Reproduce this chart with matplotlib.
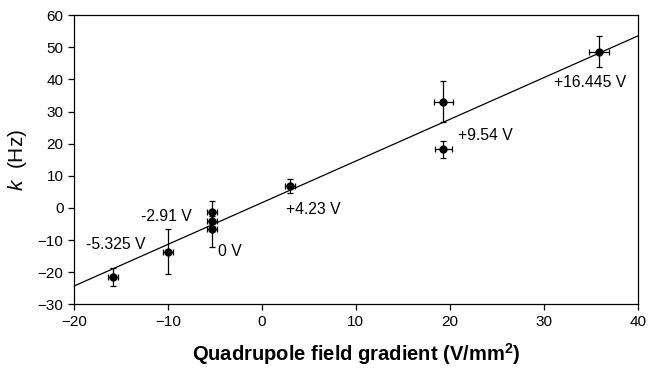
import numpy as np
import matplotlib.pyplot as plt

plt.rcParams['font.family'] = ['Liberation Sans', 'DejaVu Sans']
plt.rcParams['mathtext.fontset'] = 'custom'
plt.rcParams['mathtext.rm'] = 'Liberation Sans'
plt.rcParams['mathtext.it'] = 'Liberation Sans:italic'
plt.rcParams['mathtext.bf'] = 'Liberation Sans:bold'

# measured points
grad = [-15.8, -10.0, -5.3, -5.3, -5.3, 3.0, 19.3, 19.3, 35.9]
k = [-21.5, -13.6, -1.4, -4.1, -6.4, 6.8, 33.0, 18.2, 48.6]
k_err = [2.8, 7.0, 3.6, 1.5, 5.8, 2.2, 6.4, 2.6, 4.8]
grad_err = [0.55, 0.55, 0.5, 0.5, 0.5, 0.5, 1.0, 0.9, 1.05]

# linear fit
slope = 1.297
intercept = 1.63
fit_x = [-20, 40]

# voltage labels (text, x, y, align)
lab_txt = ["-5.325 V", "-2.91 V", "0 V", "+4.23 V", "+9.54 V", "+16.445 V"]
lab_x = [-12.4, -7.5, -4.65, 2.55, 20.9, 31.1]
lab_y = [-11.5, -2.7, -13.6, -0.6, 22.4, 39.1]
lab_ha = ["right", "right", "left", "left", "left", "left"]

fig = plt.figure(figsize=(6.65, 3.69), dpi=100)
ax = fig.add_axes([0.111, 0.175, 0.848, 0.784])

fx = np.array(fit_x)
ax.plot(fx, slope * fx + intercept, color='k', lw=0.9)
ax.errorbar(grad, k, yerr=k_err, xerr=grad_err, fmt='o', color='k',
            ms=5, elinewidth=0.9, capsize=2.5, capthick=0.9)

for t, x, y, ha in zip(lab_txt, lab_x, lab_y, lab_ha):
    ax.text(x, y, t, ha=ha, va='center', fontsize=11.3)

ax.set_xlim(-20, 40)
ax.set_ylim(-30, 60)
ax.set_xticks(range(-20, 41, 10))
ax.set_yticks(range(-30, 61, 10))
ax.tick_params(direction='out', length=4, width=0.9, labelsize=11)
for s in ax.spines.values():
    s.set_linewidth(0.9)

ax.set_xlabel(r'Quadrupole field gradient (V/mm$^{\mathbf{2}}$)',
              fontsize=14.5, fontweight='bold', labelpad=9)
ax.set_ylabel(r'$k$  (Hz)', fontsize=15, labelpad=6)

fig.savefig('out.png', dpi=100)
